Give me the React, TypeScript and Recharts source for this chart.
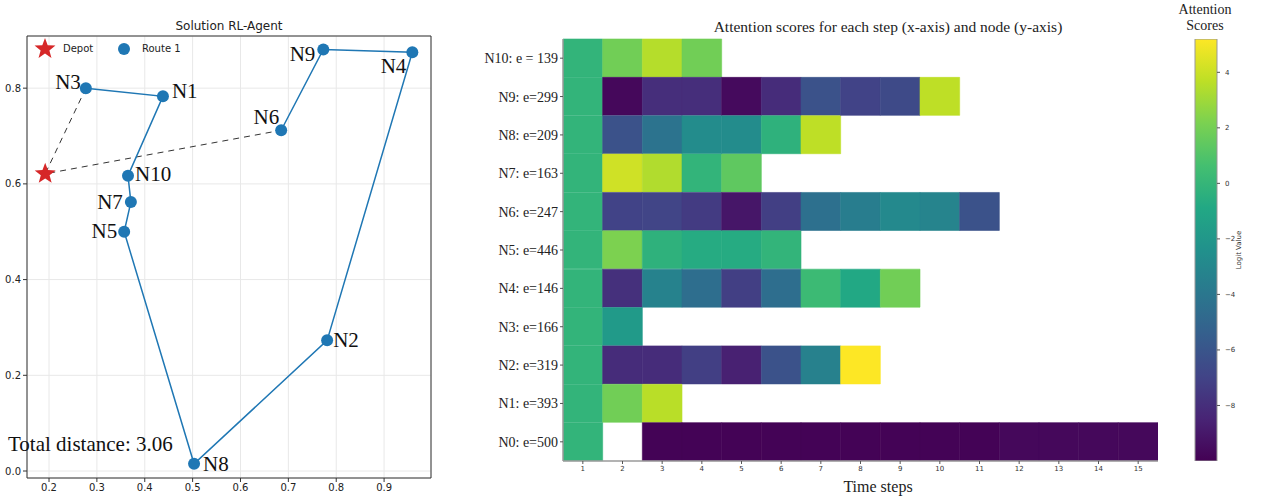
import React from 'react';
import {
  ScatterChart, Scatter, XAxis, YAxis, CartesianGrid, ReferenceArea, BarChart, Bar, Cell
} from 'recharts';

// ---- route plot data ----
const depotX = 0.192;
const depotY = 0.621;
const routeNodes = ['N3', 'N1', 'N10', 'N7', 'N5', 'N8', 'N2', 'N4', 'N9', 'N6'];
const routeX = [0.277, 0.438, 0.365, 0.371, 0.357, 0.503, 0.781, 0.959, 0.773, 0.685];
const routeY = [0.800, 0.783, 0.617, 0.562, 0.500, 0.015, 0.273, 0.875, 0.881, 0.712];
const totalDistance = '3.06';
const xTicks = [0.2, 0.3, 0.4, 0.5, 0.6, 0.7, 0.8, 0.9];
const yTicks = [0.0, 0.2, 0.4, 0.6, 0.8];
const xDomain = [0.154, 0.998];
const yDomain = [-0.0146, 0.909];

// ---- heatmap data (rows top -> bottom, columns = time steps 1..15) ----
const nodeLabels = [
  'N10: e = 139', 'N9: e=299', 'N8: e=209', 'N7: e=163', 'N6: e=247', 'N5: e=446',
  'N4: e=146', 'N3: e=166', 'N2: e=319', 'N1: e=393', 'N0: e=500',
];
const stepLabels = ['1', '2', '3', '4', '5', '6', '7', '8', '9', '10', '11', '12', '13', '14', '15'];
const scoresN10 = [-0.1, 1.9, 3.5, 1.9];
const scoresN9 = [-0.1, -9.7, -8.0, -8.0, -9.6, -8.1, -6.2, -7.0, -6.6, 3.7];
const scoresN8 = [-0.1, -6.2, -4.2, -2.7, -2.7, -0.3, 3.7];
const scoresN7 = [-0.1, 4.1, 3.4, -0.1, 1.4];
const scoresN6 = [-0.1, -7.0, -6.9, -7.4, -9.1, -7.2, -4.4, -3.6, -2.9, -3.2, -6.2];
const scoresN5 = [-0.1, 2.2, -0.3, -0.7, -0.7, -0.1];
const scoresN4 = [-0.1, -7.9, -3.3, -4.5, -7.2, -4.5, 0.3, -0.9, 1.9];
const scoresN3 = [-0.1, -1.8];
const scoresN2 = [-0.1, -8.1, -8.1, -7.2, -8.6, -6.2, -3.4, 5.2];
const scoresN1 = [-0.1, 1.9, 3.6];
const scoresN0 = [-0.1, null, -9.9, -9.9, -9.9, -9.9, -9.9, -9.9, -9.9, -9.9, -9.9, -9.7, -9.7, -9.7, -9.7];
const nodeScores: (number | null)[][] = [
  scoresN10, scoresN9, scoresN8, scoresN7, scoresN6, scoresN5,
  scoresN4, scoresN3, scoresN2, scoresN1, scoresN0,
];
const cbMin = -10;
const cbMax = 5.2;
const cbTicks = [-8, -6, -4, -2, 0, 2, 4];

// viridis colormap
const viridisStops = ['#440154', '#482475', '#414487', '#355f8d', '#2a788e', '#21918c',
  '#22a884', '#44bf70', '#7ad151', '#bddf26', '#fde725'];
const hex = (h: string) => [1, 3, 5].map((k) => parseInt(h.slice(k, k + 2), 16));
function viridis(v: number) {
  let t = (v - cbMin) / (cbMax - cbMin);
  t = Math.max(0, Math.min(1, t));
  const p = t * 10;
  const i = Math.min(9, Math.floor(p));
  const f = p - i;
  const a = hex(viridisStops[i]);
  const b = hex(viridisStops[i + 1]);
  const c = a.map((x, k) => Math.round(x + (b[k] - x) * f));
  return `rgb(${c[0]},${c[1]},${c[2]})`;
}

// label placement around each node (style only)
const labelStyle: Record<string, { dx: number; dy: number; anchor: string }> = {
  N3: { dx: -5, dy: 1, anchor: 'end' },
  N1: { dx: 9, dy: 2, anchor: 'start' },
  N10: { dx: 7, dy: 5, anchor: 'start' },
  N7: { dx: -8, dy: 7, anchor: 'end' },
  N5: { dx: -7, dy: 6, anchor: 'end' },
  N8: { dx: 9, dy: 7, anchor: 'start' },
  N2: { dx: 6, dy: 7, anchor: 'start' },
  N4: { dx: -6, dy: 21, anchor: 'end' },
  N9: { dx: -8, dy: 12, anchor: 'end' },
  N6: { dx: -2, dy: -6, anchor: 'end' },
};

const BLUE = '#1f77b4';
const RED = '#d62728';
const SERIF = '"Liberation Serif", "Times New Roman", serif';
const SANS = '"DejaVu Sans", sans-serif';

const starPoints = (cx: number, cy: number, R: number, r: number) => {
  const pts: string[] = [];
  for (let k = 0; k < 10; k++) {
    const rad = k % 2 === 0 ? R : r;
    const ang = -Math.PI / 2 + (k * Math.PI) / 5;
    pts.push(`${cx + rad * Math.cos(ang)},${cy + rad * Math.sin(ang)}`);
  }
  return pts.join(' ');
};

const renderNode = (props: any) => {
  const { cx, cy, payload } = props;
  const s = labelStyle[payload.name];
  return (
    <g>
      <circle cx={cx} cy={cy} r={6} fill={BLUE} />
      <text x={cx + s.dx} y={cy + s.dy} textAnchor={s.anchor as any}
        fontFamily={SERIF} fontSize={21} fill="#111">{payload.name}</text>
    </g>
  );
};

const renderStar = (props: any) => (
  <polygon points={starPoints(props.cx, props.cy, 11, 4.6)} fill={RED} />
);

const RoutePlot: React.FC = () => {
  const route = routeNodes.map((name, i) => ({ name, x: routeX[i], y: routeY[i] }));
  const depot = [{ name: 'Depot', x: depotX, y: depotY }];
  // dashed legs: last node -> depot -> first node
  const dashed = [route[0], depot[0], route[route.length - 1]];
  const tickStyle = { fontSize: 10, fontFamily: SANS, fill: '#222' };
  return (
    <div style={{ position: 'absolute', left: 0, top: 0, width: 440, height: 497 }}>
      <div style={{ position: 'absolute', left: 229, top: 19, transform: 'translateX(-50%)',
        fontFamily: SANS, fontSize: 12, color: '#222', whiteSpace: 'nowrap', lineHeight: '14px' }}>
        Solution RL-Agent
      </div>
      <ScatterChart width={440} height={497} margin={{ top: 36, right: 9, bottom: 0, left: 0 }}>
        <CartesianGrid stroke="#e8e8e8" />
        <XAxis type="number" dataKey="x" domain={xDomain} ticks={xTicks} allowDataOverflow
          tickFormatter={(v: number) => v.toFixed(1)} height={19} tickSize={4} tickMargin={2}
          axisLine={false} tickLine={{ stroke: '#333' }} tick={tickStyle} interval={0} />
        <YAxis type="number" dataKey="y" domain={yDomain} ticks={yTicks} allowDataOverflow
          tickFormatter={(v: number) => v.toFixed(1)} width={27} tickSize={4} tickMargin={2}
          axisLine={false} tickLine={{ stroke: '#333' }} tick={tickStyle} interval={0} />
        <ReferenceArea x1={xDomain[0]} x2={xDomain[1]} y1={yDomain[0]} y2={yDomain[1]}
          fill="none" stroke="#333" strokeWidth={1} ifOverflow="visible" />
        <Scatter data={dashed} line={{ stroke: '#333', strokeWidth: 1, strokeDasharray: '6 5' }}
          shape={() => <g />} isAnimationActive={false} />
        <Scatter data={route} line={{ stroke: BLUE, strokeWidth: 1.5 }}
          shape={renderNode} isAnimationActive={false} />
        <Scatter data={depot} shape={renderStar} isAnimationActive={false} />
      </ScatterChart>
      {/* legend */}
      <svg style={{ position: 'absolute', left: 0, top: 0 }} width={200} height={70}>
        <polygon points={starPoints(45, 49, 11, 4.6)} fill={RED} />
        <text x={63} y={52} fontFamily={SANS} fontSize={10} fill="#222">Depot</text>
        <circle cx={124} cy={49} r={6} fill={BLUE} />
        <text x={142} y={52} fontFamily={SANS} fontSize={10} fill="#222">Route 1</text>
      </svg>
      <div style={{ position: 'absolute', left: 8, top: 434, fontFamily: SERIF, fontSize: 21,
        lineHeight: '21px', color: '#111', whiteSpace: 'nowrap' }}>
        Total distance: {totalDistance}
      </div>
    </div>
  );
};

const Heatmap: React.FC = () => {
  const rows = nodeLabels.map((node, i) => {
    const r: Record<string, any> = { node };
    const sc = nodeScores[i];
    let last = -1;
    sc.forEach((v, j) => { if (v != null) last = j; });
    for (let j = 0; j <= last; j++) r['s' + j] = 1;
    return r;
  });
  const frame = '#9a9a9a';
  return (
    <div style={{ position: 'absolute', left: 470, top: 0, width: 700, height: 497 }}>
      <div style={{ position: 'absolute', left: 418, top: 18, transform: 'translateX(-50%)',
        fontFamily: SERIF, fontSize: 15.5, lineHeight: '18px', color: '#222', whiteSpace: 'nowrap' }}>
        Attention scores for each step (x-axis) and node (y-axis)
      </div>
      <BarChart width={700} height={497} data={rows} layout="vertical"
        barCategoryGap={0} barGap={0} margin={{ top: 39, right: 12, bottom: 0, left: 0 }}>
        <XAxis type="number" domain={[0, stepLabels.length]} allowDataOverflow
          ticks={stepLabels.map((_, j) => j + 0.5)}
          tickFormatter={(v: number) => stepLabels[Math.round(v - 0.5)]}
          height={36} tickSize={3} tickMargin={2} interval={0}
          axisLine={{ stroke: frame, strokeWidth: 1.5 }} tickLine={{ stroke: '#555' }}
          tick={{ fontSize: 7, fontFamily: SANS, fill: '#333' }} />
        <XAxis xAxisId="top" orientation="top" type="number" domain={[0, stepLabels.length]}
          height={0} tick={false} tickLine={false} axisLine={{ stroke: frame, strokeWidth: 1.5 }} />
        <YAxis type="category" dataKey="node" width={93} tickSize={3} tickMargin={2} interval={0}
          axisLine={{ stroke: frame, strokeWidth: 1.5 }} tickLine={{ stroke: '#555' }}
          tick={{ fontSize: 14, fontFamily: SERIF, fill: '#222' }} />
        <YAxis yAxisId="right" orientation="right" type="category" dataKey="node" width={0}
          tick={false} tickLine={false} axisLine={{ stroke: frame, strokeWidth: 1.5 }} />
        {stepLabels.map((_, j) => (
          <Bar key={j} dataKey={'s' + j} stackId="h" isAnimationActive={false}>
            {nodeScores.map((sc, i) => {
              const v = sc[j];
              const fill = v == null ? 'transparent' : viridis(v);
              return <Cell key={i} fill={fill} stroke={fill} strokeWidth={0.6} />;
            })}
          </Bar>
        ))}
      </BarChart>
      <div style={{ position: 'absolute', left: 408, top: 478, transform: 'translateX(-50%)',
        fontFamily: SERIF, fontSize: 16, lineHeight: '18px', color: '#222', whiteSpace: 'nowrap' }}>
        Time steps
      </div>
    </div>
  );
};

const ColorBar: React.FC = () => {
  const cbData = [{ k: 'cb', range: [cbMin, cbMax] }];
  const gradStops = [...viridisStops].reverse();
  return (
    <div style={{ position: 'absolute', left: 1170, top: 0, width: 99, height: 497 }}>
      <div style={{ position: 'absolute', left: 35, top: 2, transform: 'translateX(-50%)',
        fontFamily: SERIF, fontSize: 14, lineHeight: '16px', color: '#222', textAlign: 'center',
        whiteSpace: 'nowrap' }}>
        Attention<br />Scores
      </div>
      <BarChart width={90} height={497} data={cbData} barCategoryGap={0}
        margin={{ top: 39, right: 0, bottom: 36, left: 25 }}>
        <defs>
          <linearGradient id="viridisGrad" x1="0" y1="0" x2="0" y2="1">
            {gradStops.map((c, i) => (
              <stop key={i} offset={`${(i / (gradStops.length - 1)) * 100}%`} stopColor={c} />
            ))}
          </linearGradient>
        </defs>
        <XAxis type="category" dataKey="k" hide />
        <YAxis type="number" orientation="right" domain={[cbMin, cbMax]} allowDataOverflow
          ticks={cbTicks} interval={0} width={43} tickSize={3} tickMargin={5}
          tickFormatter={(v: number) => String(v).replace('-', '\u2212')}
          axisLine={false} tickLine={{ stroke: '#555' }}
          tick={{ fontSize: 7, fontFamily: SANS, fill: '#333', textAnchor: 'start' }} />
        <Bar dataKey="range" fill="url(#viridisGrad)" stroke="#999" strokeWidth={1}
          isAnimationActive={false} />
      </BarChart>
      <div style={{ position: 'absolute', left: 69, top: 250, transform: 'translate(-50%, -50%) rotate(-90deg)',
        fontFamily: SANS, fontSize: 7, lineHeight: '8px', color: '#333', whiteSpace: 'nowrap' }}>
        Logit Value
      </div>
    </div>
  );
};

export default function App() {
  return (
    <div style={{ position: 'absolute', left: 0, top: 0, width: 1269, height: 497, background: '#fff' }}>
      <RoutePlot />
      <Heatmap />
      <ColorBar />
    </div>
  );
}
